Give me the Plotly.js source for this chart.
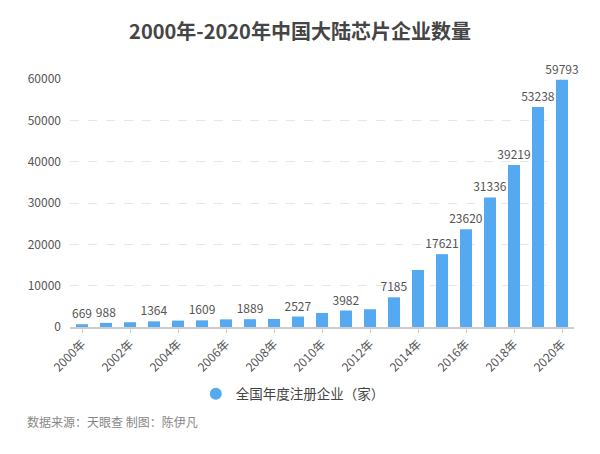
<!DOCTYPE html>
<html>
<head>
<meta charset="utf-8">
<script src="https://cdn.plot.ly/plotly-3.0.1.min.js"></script>
<style>html,body{margin:0;padding:0;background:#fff;}#chart{width:600px;height:454px;}</style>
</head>
<body>
<div id="chart"></div>
<script>
const years = ["2000年","2001年","2002年","2003年","2004年","2005年","2006年","2007年","2008年","2009年","2010年","2011年","2012年","2013年","2014年","2015年","2016年","2017年","2018年","2019年","2020年"];
const companies = [669, 988, 1150, 1364, 1550, 1609, 1850, 1889, 1950, 2527, 3400, 3982, 4300, 7185, 13800, 17621, 23620, 31336, 39219, 53238, 59793];
const shownLabels = ["669","988","","1364","","1609","","1889","","2527","","3982","","7185","","17621","23620","31336","39219","53238","59793"];
const tickYears = ["2000年","2002年","2004年","2006年","2008年","2010年","2012年","2014年","2016年","2018年","2020年"];
const seriesName = "全国年度注册企业（家）";
const footer = "数据来源：天眼查 制图：陈伊凡";
const barColor = "#55a9f0";
const font = '"Noto Sans CJK SC", "Noto Sans", sans-serif';
const labelFont = {size: 12, color: "#555", family: font};

const traces = [
  {
    type: "bar",
    x: years,
    y: companies,
    text: shownLabels,
    textposition: "outside",
    constraintext: "none",
    cliponaxis: false,
    textfont: labelFont,
    outsidetextfont: labelFont,
    marker: {color: barColor},
    showlegend: false,
    hoverinfo: "x+y"
  },
  {
    type: "scatter",
    mode: "markers",
    x: [null],
    y: [null],
    name: seriesName,
    marker: {symbol: "circle", size: 13, color: barColor},
    showlegend: true
  }
];

const layout = {
  width: 600,
  height: 454,
  margin: {l: 70, r: 26, t: 79, b: 127},
  paper_bgcolor: "#fff",
  plot_bgcolor: "#fff",
  font: {family: font, color: "#555"},
  bargap: 0.5,
  title: {
    text: "<b>2000年-2020年中国大陆芯片企业数量</b>",
    x: 0.5, xref: "container", xanchor: "center",
    y: 0.93, yref: "container", yanchor: "middle",
    font: {size: 20, color: "#454545", family: font}
  },
  xaxis: {
    type: "category",
    categoryorder: "array",
    categoryarray: years,
    tickmode: "array",
    tickvals: tickYears,
    ticktext: tickYears,
    tickangle: -45,
    ticks: "outside",
    ticklen: 4,
    tickcolor: "#d9c9b8",
    showline: true,
    linecolor: "#ccc",
    linewidth: 1.5,
    showgrid: false,
    tickfont: {size: 12, color: "#555", family: font},
    fixedrange: true
  },
  yaxis: {
    range: [0, 60000],
    tickvals: [0, 10000, 20000, 30000, 40000, 50000, 60000],
    ticktext: ["0","10000","20000","30000","40000","50000","60000"],
    showgrid: true,
    gridcolor: "#e6e6e6",
    griddash: "dash",
    gridwidth: 1,
    zeroline: false,
    showline: false,
    ticks: "",
    ticklabelstandoff: 8,
    tickfont: {size: 12, color: "#555", family: font},
    fixedrange: true
  },
  legend: {
    orientation: "h",
    xref: "container", x: 0.488, xanchor: "center",
    yref: "container", y: 1 - 394/454, yanchor: "middle",
    font: {size: 13.5, color: "#444", family: font},
    itemsizing: "constant"
  },
  annotations: [
    {
      text: footer,
      xref: "paper", x: (25 - 70) / 504, xanchor: "left",
      yref: "paper", y: (327 - 421) / 248, yanchor: "middle",
      showarrow: false,
      font: {size: 12, color: "#888", family: font}
    }
  ]
};

Plotly.newPlot("chart", traces, layout, {displayModeBar: false, staticPlot: true});
</script>
</body>
</html>
